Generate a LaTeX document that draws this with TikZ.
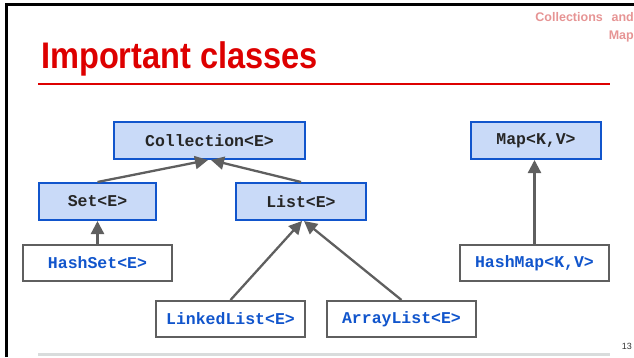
\documentclass[tikz,border=0pt]{standalone}
\usepackage{fontspec}
\setmainfont{Liberation Sans}
\newfontfamily\titlefont[FakeStretch=0.88]{Liberation Sans}
\newfontfamily\codefont{Liberation Mono}
\usetikzlibrary{arrows.meta}
\definecolor{slidered}{HTML}{DD0000}
\definecolor{headpink}{HTML}{E69494}
\definecolor{ifacefill}{HTML}{C9DAF8}
\definecolor{ifaceblue}{HTML}{1155CC}
\definecolor{arrowgray}{HTML}{5F5F5F}
\definecolor{rulegray}{HTML}{D9DCDC}
\tikzset{
  iface/.style={draw=ifaceblue, fill=ifacefill, line width=2pt,
    inner sep=0pt, minimum height=37pt,
    font=\codefont\bfseries\fontsize{16.5}{18}\selectfont, text=black!85},
  impl/.style={draw=arrowgray, fill=white, line width=2pt,
    inner sep=0pt, minimum height=36pt, minimum width=149pt,
    font=\codefont\bfseries\fontsize{16.5}{18}\selectfont, text=ifaceblue},
  inherit/.style={draw=arrowgray, line width=2.3pt,
    -{Triangle[length=13pt,width=13pt]}}
}
\begin{document}
\begin{tikzpicture}[x=1pt,y=-1pt]
\useasboundingbox (0,0) rectangle (634,357);
% slide frame
\draw[line width=3pt, black] (6.5,357) -- (6.5,4) -- (634,4);
% header
\node[anchor=north east, align=right, inner sep=0pt, text=headpink,
  font=\bfseries\fontsize{12.5}{18}\selectfont] (topic) at (634,12)
  {Collections\hspace{0.7em}and\\Map};
\node[anchor=base west, inner sep=0pt, text=slidered,
  font=\titlefont\bfseries\fontsize{37}{42}\selectfont] (title) at (41,68)
  {Important classes};
\draw[slidered, line width=2.5pt] (38,84) -- (610,84);
% footer
\draw[rulegray, line width=3pt] (38,354.5) -- (610,354.5);
\node[anchor=base east, inner sep=0pt, font=\fontsize{9}{10}\selectfont,
  text=black!80] (pagenum) at (632,349) {13};
% interfaces
\node[iface, minimum width=191pt] (coll) at (209.5,140.5) {Collection<E>};
\node[iface, minimum width=117pt] (set)  at (97.5,201.5) {Set<E>};
\node[iface, minimum width=130pt] (list) at (301,201.5) {List<E>};
\node[iface, minimum width=130pt] (map)  at (536,140.5) {Map<K,V>};
% implementations
\node[impl] (hashset)    at (97.5,263)  {HashSet<E>};
\node[impl] (linkedlist) at (230.5,319) {LinkedList<E>};
\node[impl] (arraylist)  at (401.5,319) {ArrayList<E>};
\node[impl] (hashmap)    at (534.5,263) {HashMap<K,V>};
% inheritance arrows
\draw[inherit] (set.north) -- ([xshift=-1.5pt]coll.south);
\draw[inherit] (list.north) -- ([xshift=1.5pt]coll.south);
\draw[inherit] (hashset.north) -- (set.south);
\draw[inherit] (linkedlist.north) -- ([xshift=1pt]list.south);
\draw[inherit] (arraylist.north) -- ([xshift=3pt]list.south);
\draw[inherit] (hashmap.north) -- (hashmap.north |- map.south);
\end{tikzpicture}
\end{document}
